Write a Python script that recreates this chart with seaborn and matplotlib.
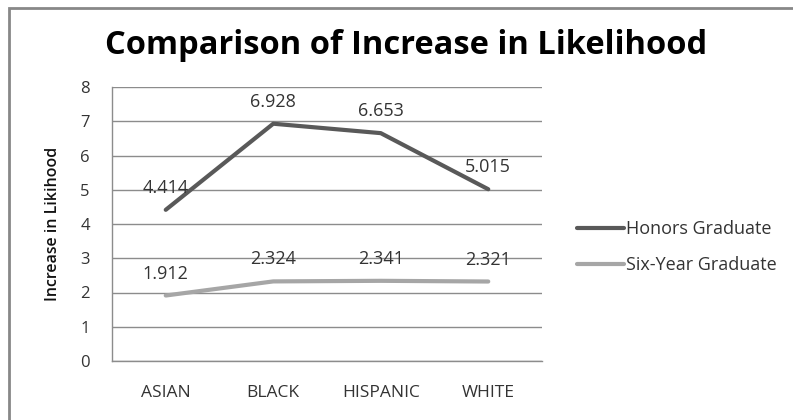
import matplotlib
matplotlib.use("Agg")
import matplotlib.pyplot as plt
import seaborn as sns
import pandas as pd
from matplotlib.patches import Rectangle
from matplotlib.lines import Line2D

categories = ["ASIAN", "BLACK", "HISPANIC", "WHITE"]
honors = [4.414, 6.928, 6.653, 5.015]
six_year = [1.912, 2.324, 2.341, 2.321]
series_names = ["Honors Graduate", "Six-Year Graduate"]
y_ticks = [0, 1, 2, 3, 4, 5, 6, 7, 8]

df = pd.DataFrame({
    "cat": categories * 2,
    "x": list(range(len(categories))) * 2,
    "val": honors + six_year,
    "series": [series_names[0]] * 4 + [series_names[1]] * 4,
})

sns.set_theme(style="white")
plt.rcParams["font.family"] = ["Open Sans", "DejaVu Sans"]

W, H = 793, 420
fig = plt.figure(figsize=(W / 100, H / 100), dpi=100)
ax = fig.add_axes([112 / W, 1 - 361 / H, (542 - 112) / W, (361 - 87) / H])

colors = {series_names[0]: "#595959", series_names[1]: "#a6a6a6"}
sns.lineplot(data=df, x="x", y="val", hue="series", palette=colors, linewidth=3,
             ax=ax, legend=False, sort=False)

for xv, v in zip(range(len(categories)), honors):
    ax.annotate(f"{v:.3f}", (xv, v), xytext=(0, 22), textcoords="offset pixels",
                ha="center", va="center", fontsize=13, color="#333333")
for xv, v in zip(range(len(categories)), six_year):
    ax.annotate(f"{v:.3f}", (xv, v), xytext=(0, 22), textcoords="offset pixels",
                ha="center", va="center", fontsize=13, color="#333333")

ax.set_xlim(-0.5, len(categories) - 0.5)
ax.set_ylim(0, 8)
ax.set_yticks(y_ticks)
ax.set_yticklabels([str(t) for t in y_ticks], fontsize=12, color="#333333")
ax.set_xticks(range(len(categories)))
ax.set_xticklabels(categories, fontsize=12.5, color="#333333")
ax.tick_params(axis="x", length=0, pad=17)
ax.tick_params(axis="y", length=0, pad=16)
ax.grid(axis="y", color="#8c8c8c", linewidth=1)
ax.set_axisbelow(True)
for s in ["top", "right"]:
    ax.spines[s].set_visible(False)
for s in ["left", "bottom"]:
    ax.spines[s].set_color("#8c8c8c")
    ax.spines[s].set_linewidth(1)
ax.set_xlabel("")
ax.set_ylabel("Increase in Likihood", fontsize=11.5, fontweight="semibold", color="#111111", labelpad=14)

handles = [Line2D([], [], color=colors[n], linewidth=3) for n in series_names]
fig.legend(handles, series_names, loc="center left", bbox_to_anchor=(561 / W, 1 - 247 / H),
           frameon=False, fontsize=13, handlelength=2.6, handletextpad=0.1,
           labelspacing=1.0, labelcolor="#333333")

fig.text(406 / W, 1 - 46 / H, "Comparison of Increase in Likelihood", ha="center", va="center",
         fontsize=23.5, fontweight="bold", color="#000000")

fig.patches.append(Rectangle((9 / W, -0.05), 1.1, 1 - 8 / H + 0.05, transform=fig.transFigure,
                             fill=False, edgecolor="#888888", linewidth=2))

fig.savefig("out.png", dpi=100)
